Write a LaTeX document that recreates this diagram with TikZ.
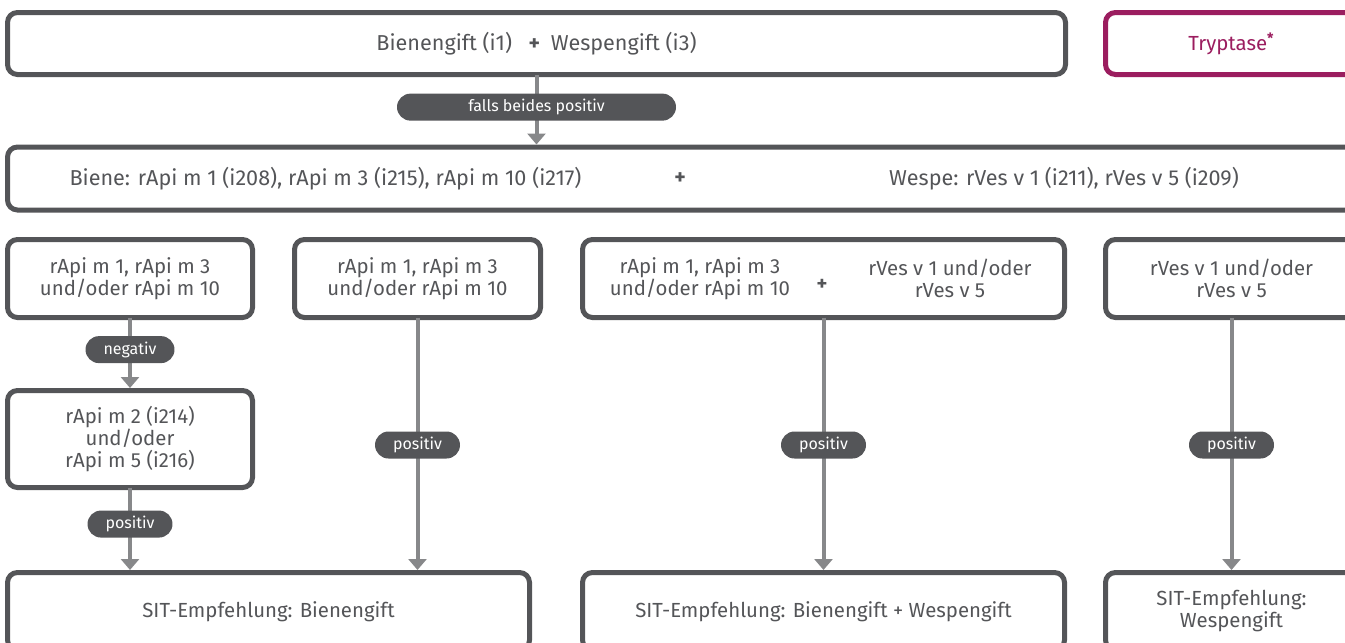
\documentclass[tikz,border=0pt]{standalone}
\usepackage{fontspec}
\setmainfont{Fira Sans}
\usepackage{xcolor}
\usepackage{tikz}
\usetikzlibrary{arrows.meta}

\definecolor{darkgrey}{HTML}{545558}
\definecolor{arrowgrey}{HTML}{87888A}
\definecolor{tryptase}{HTML}{9B1D5F}

\begin{document}
\begin{tikzpicture}[x=0.5pt, y=-0.5pt,
    box/.style={draw=darkgrey, line width=2.5pt, rounded corners=5pt, inner sep=0pt, outer sep=0pt,
        text=darkgrey, align=center, font=\fontsize{10.2}{11.2}\selectfont},
    txt/.style={text=darkgrey, align=center, inner sep=0pt, font=\fontsize{10.2}{11.2}\selectfont},
    big/.style={font=\fontsize{10.8}{12}\selectfont},
    pill/.style={fill=darkgrey, text=white, rounded corners=6.75pt, minimum height=13.5pt,
        inner xsep=9pt, inner ysep=0pt, font=\fontsize{8}{9}\selectfont},
    link/.style={draw=arrowgrey, line width=2pt, -{Triangle[width=9pt,length=5.5pt]}, shorten >=1.25pt}]

\useasboundingbox (0,0) rectangle (1345,643);
\clip (0,0) rectangle (1345,643);

% first test
\node[box, big, minimum width=529pt, minimum height=31pt] (gift) at (536.5,43.5) {Bienengift (i1) \enspace{\bfseries +}\enspace Wespengift (i3)};
\node[box, draw=tryptase, text=tryptase, minimum width=126pt, minimum height=31pt] (tryp) at (1231.5,43.5) {Tryptase\textsuperscript{\bfseries *}};

% components
\node[box, minimum width=675pt, minimum height=31.5pt] (comp) at (682.5,178.5) {};
\node[txt, big] (bee) at (325.5,178.5) {Biene: rApi m 1 (i208), rApi m 3 (i215), rApi m 10 (i217)};
\node[txt, big] (plus) at (680,178.5) {\bfseries +};
\node[txt, big] (wasp) at (1064,178.5) {Wespe: rVes v 1 (i211), rVes v 5 (i209)};

% results
\node[box, minimum width=122.5pt, minimum height=39pt] (beeA) at (130,278.5) {rApi m 1, rApi m 3\\und/oder rApi m 10};
\node[box, minimum width=123pt, minimum height=39pt] (beeB) at (417.5,278.5) {rApi m 1, rApi m 3\\und/oder rApi m 10};
\node[box, minimum width=241pt, minimum height=39pt] (both) at (823.5,278.5) {};
\node[txt] (bothbee) at (700,278.5) {rApi m 1, rApi m 3\\und/oder rApi m 10};
\node[txt] (bothplus) at (822,285) {\bfseries +};
\node[txt] (bothwasp) at (950,278.5) {rVes v 1 und/oder\\rVes v 5};
\node[box, minimum width=126pt, minimum height=39pt] (wasp1) at (1231.5,278.5) {rVes v 1 und/oder\\rVes v 5};
\node[box, minimum width=122.5pt, minimum height=48.5pt] (beeA2) at (130,439) {rApi m 2 (i214)\\und/oder\\rApi m 5 (i216)};

% recommendation
\node[box, minimum width=261pt, minimum height=38.75pt] (sitbee) at (268.5,611.25) {SIT-Empfehlung: Bienengift};
\node[box, minimum width=241pt, minimum height=38.75pt] (sitboth) at (823.5,611.25) {SIT-Empfehlung: Bienengift + Wespengift};
\node[box, minimum width=126pt, minimum height=38.75pt] (sitwasp) at (1231.5,611.25) {SIT-Empfehlung:\\Wespengift};

\draw[link] (gift.south) -- node[pill, pos=0.45, minimum width=139.5pt] (bothpos) {falls beides positiv} (gift.south |- comp.north);
\draw[link] (beeA.south) -- node[pill, pos=0.44] (neg) {negativ} (beeA2.north);
\draw[link] (beeA2.south) -- node[pill, pos=0.43] (posA) {positiv} (sitbee.north -| beeA2.south);
\draw[link] (beeB.south) -- node[pill, pos=0.5] (posB) {positiv} (beeB.south |- sitbee.north);
\draw[link] (both.south) -- node[pill, pos=0.5] (posC) {positiv} (sitboth.north);
\draw[link] (wasp1.south) -- node[pill, pos=0.5] (posD) {positiv} (sitwasp.north);

\end{tikzpicture}
\end{document}
